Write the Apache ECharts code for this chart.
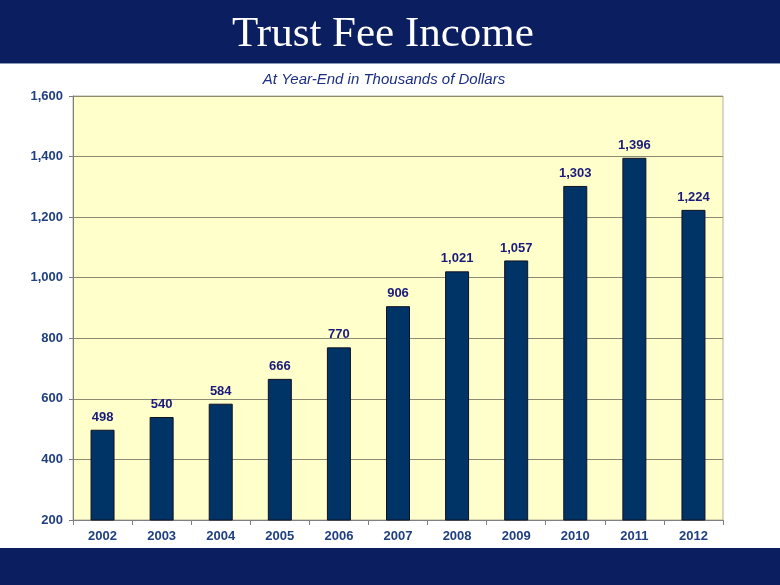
<!DOCTYPE html>
<html><head><meta charset="utf-8">
<script src="https://cdn.jsdelivr.net/npm/echarts@6/dist/echarts.min.js"></script>
<style>html,body{margin:0;padding:0;background:#fff}#c{width:780px;height:585px}</style>
</head><body><div id="c"></div>
<script>
const years = ['2002','2003','2004','2005','2006','2007','2008','2009','2010','2011','2012'];
const income = [498,540,584,666,770,906,1021,1057,1303,1396,1224];
const yTicks = [200,400,600,800,1000,1200,1400,1600];
const titleText = 'Trust Fee Income';
const subtitleText = 'At Year-End in Thousands of Dollars';

const chart = echarts.init(document.getElementById('c'), null, {renderer:'canvas'});
chart.setOption({
  animation:false,
  backgroundColor:'#ffffff',
  graphic:[
    {type:'rect', left:0, top:0, shape:{width:780,height:63}, style:{fill:'#0b1f60'}, z:-1},
    {type:'rect', left:0, top:548, shape:{width:780,height:37}, style:{fill:'#0b1f60'}, z:-1},
    {type:'rect', left:0, top:63, shape:{width:780,height:1}, style:{fill:'#8a96b8'}, z:-1},
    {type:'text', x:383, y:35, z:10, style:{text:titleText, fill:'#ffffff', align:'center', verticalAlign:'middle',
      font:'normal 43px "Liberation Serif", "Times New Roman", serif'}},
    {type:'text', x:384, y:80, z:10, style:{text:subtitleText, fill:'#1b2f86', align:'center', verticalAlign:'middle',
      font:'italic 15px "Liberation Sans", Arial, sans-serif'}}
  ],
  grid:{left:73, right:57, top:96, bottom:65, show:true, backgroundColor:'#ffffcc', borderColor:'#b0b0a0', borderWidth:1},
  xAxis:{type:'category', data:years,
    axisLine:{lineStyle:{color:'#7f7f7f', width:1}},
    axisTick:{show:true, alignWithLabel:false, length:5, lineStyle:{color:'#7f7f7f'}},
    axisLabel:{color:'#1f3f7f', fontFamily:'Liberation Sans, Arial, sans-serif', fontSize:13, fontWeight:'bold', margin:10}},
  yAxis:{type:'value', min:yTicks[0], max:yTicks[yTicks.length-1], interval:200,
    axisLine:{show:true, lineStyle:{color:'#7f7f7f', width:1}},
    axisTick:{show:true, length:4, inside:false, lineStyle:{color:'#7f7f7f'}},
    splitLine:{lineStyle:{color:'#8c8c74', width:1}},
    axisLabel:{color:'#1f3f7f', fontFamily:'Liberation Sans, Arial, sans-serif', fontSize:13, fontWeight:'bold', margin:10,
      formatter:v=>v.toLocaleString('en-US')}},
  series:[{type:'bar', data:income, barWidth:24,
    itemStyle:{color:'#003366', borderColor:'#111122', borderWidth:1},
    label:{show:true, position:'top', distance:6, color:'#1a1a7a', fontFamily:'Liberation Sans, Arial, sans-serif', fontSize:13, fontWeight:'bold',
      formatter:p=>p.value.toLocaleString('en-US')}}]
});
</script></body></html>
